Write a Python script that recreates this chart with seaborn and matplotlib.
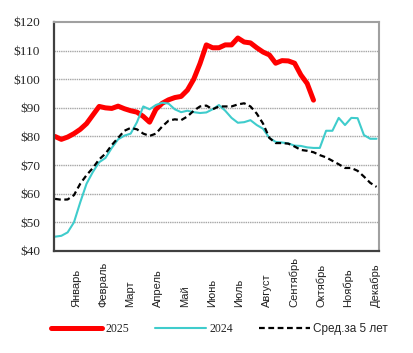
import numpy as np
import pandas as pd
import matplotlib
matplotlib.use("Agg")
import matplotlib.pyplot as plt
import seaborn as sns

sns.set_style("white")
plt.rcParams["font.family"] = ["Liberation Serif", "DejaVu Serif"]

# weekly prices, $
price_2025 = [80, 79, 79.8, 81, 82.5, 84.5, 87.5, 90.5, 90, 89.8,
              90.6, 89.7, 89, 88.5, 87, 85, 89.5, 91.6, 92.8, 93.6,
              94, 96.2, 100, 105.5, 112, 111, 111, 112, 112, 114.4,
              113, 112.7, 111, 109.5, 108.5, 105.6, 106.5, 106.4, 105.6, 101.5,
              98.5, 92.7]
price_2024 = [45, 45.3, 46.5, 50, 57, 63.5, 67.6, 71, 72.5, 76,
              79, 80.3, 81, 85, 90.5, 89.5, 91, 91.8, 91.5, 89.5,
              88.5, 89, 88.5, 88.2, 88.4, 89.5, 91, 89, 86.5, 84.8,
              85, 85.7, 84, 82.7, 79.5, 78.1, 77.9, 77.6, 76.8, 76.7,
              76.2, 76, 76, 82, 82, 86.5, 84, 86.5, 86.4, 80.5,
              79.2, 79.2]
avg_5y = [58.2, 57.9, 58, 59.5, 63.5, 66.5, 69, 72, 74, 77,
          79.5, 82, 83, 82.5, 81, 80.2, 81, 83.5, 85.5, 86,
          85.7, 87, 89, 90.5, 90.8, 89.5, 90.5, 90.5, 90.5, 91.2,
          91.6, 90.5, 88, 84.5, 79.5, 77.7, 77.7, 77.5, 76.5, 75.3,
          75, 74.5, 73.5, 72.7, 71.5, 70.3, 69, 69, 68, 66,
          63.8, 62.4]
months = ["Январь", "Февраль", "Март", "Апрель", "Май", "Июнь",
          "Июль", "Август", "Сентябрь", "Октябрь", "Ноябрь", "Декабрь"]
y_ticks = [40, 50, 60, 70, 80, 90, 100, 110, 120]

df25 = pd.DataFrame({"week": np.arange(len(price_2025)), "price": price_2025})
df24 = pd.DataFrame({"week": np.arange(len(price_2024)), "price": price_2024})
dfav = pd.DataFrame({"week": np.arange(len(avg_5y)), "price": avg_5y})

fig = plt.figure(figsize=(4.13, 3.53), dpi=100)
ax = fig.add_axes([0.1308, 0.289, 0.787, 0.6487])

sns.lineplot(data=df25, x="week", y="price", color="#ff0000", lw=3.6,
             label="2025", ax=ax)
sns.lineplot(data=df24, x="week", y="price", color="#3fcccc", lw=1.5,
             label="2024", ax=ax)
sns.lineplot(data=dfav, x="week", y="price", color="black", lw=1.6,
             linestyle=(0, (2.6, 1.6)), label="Сред.за 5 лет", ax=ax)

ax.set_xlim(-0.16, 51.4)
ax.set_ylim(40, 120)
ax.set_yticks(y_ticks)
ax.set_yticklabels(["$%d" % v for v in y_ticks], fontsize=9.5)
ax.tick_params(axis="y", length=0, pad=10)
ax.set_xticks([])
ax.set_xlabel("")
ax.set_ylabel("")
for v in y_ticks[1:-1]:
    ax.axhline(v, color="#a6a6a6", lw=1, ls=(0, (1, 0.6)), zorder=0)

for side in ["top", "right"]:
    ax.spines[side].set_color("#a0a0a0")
    ax.spines[side].set_linewidth(1.5)
for side in ["left", "bottom"]:
    ax.spines[side].set_color("#404040")
    ax.spines[side].set_linewidth(1.6)

# month labels, anchored at the bottom and reading upward
trans = matplotlib.transforms.blended_transform_factory(ax.transData, ax.transAxes)
for i, m in enumerate(months):
    ax.text(3.33 + 4.32 * i, -0.245, m, transform=trans, rotation=90,
            ha="center", va="bottom", fontsize=8,
            family=["Liberation Sans", "DejaVu Sans"], color="#222222")

ax.get_legend().remove()
leg = fig.legend(*ax.get_legend_handles_labels(), loc="center",
                 bbox_to_anchor=(0.531, 0.068), ncol=3, frameon=False,
                 fontsize=8.5, handlelength=4.3, columnspacing=2.2,
                 handletextpad=0.3)
leg.get_texts()[2].set_family(["Liberation Sans Narrow", "Liberation Sans", "DejaVu Sans"])
leg.get_texts()[2].set_fontsize(8.5)

fig.savefig("out.png", dpi=100)
